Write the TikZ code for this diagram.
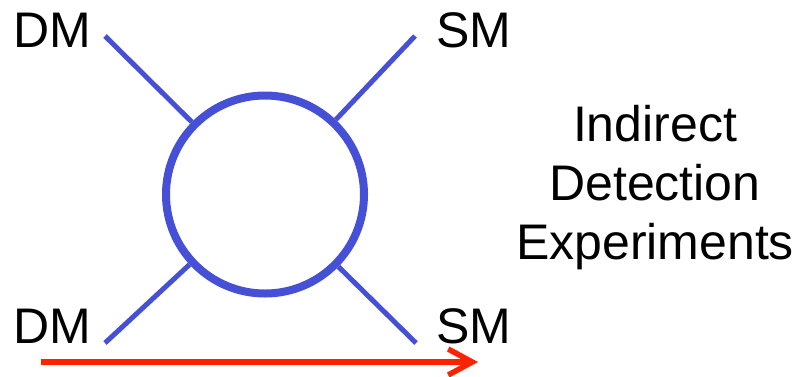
\documentclass[tikz,border=0pt]{standalone}
\usepackage{fontspec}
\setmainfont{Liberation Sans}
\usetikzlibrary{arrows.meta}
\definecolor{lineblue}{RGB}{70,80,214}
\definecolor{arrowred}{RGB}{255,34,0}
\begin{document}
\begin{tikzpicture}[x=1pt,y=-1pt,
  lbl/.style={inner sep=0pt,font=\fontsize{50}{59}\selectfont,anchor=base west},
  txt/.style={inner sep=0pt,font=\fontsize{50}{59}\selectfont,anchor=base},
  loop/.style={circle,draw=lineblue,line width=8pt,minimum size=198pt,inner sep=0pt},
  leg/.style={draw=lineblue,line width=5pt},
  timearrow/.style={draw=arrowred,line width=5.5pt,-{Straight Barb[length=24pt,width=26pt]}}]
\useasboundingbox (0,0) rectangle (800,376);
\node[loop] (c) at (265,194.5) {};
\coordinate (tl) at (105,36);
\coordinate (tr) at (415,36);
\coordinate (bl) at (105,343);
\coordinate (br) at (416,343);
\draw[leg] (tl) -- (c);
\draw[leg] (tr) -- (c);
\draw[leg] (bl) -- (c);
\draw[leg] (br) -- (c);
\node[lbl] (dm1) at (13,47) {DM};
\node[lbl] (sm1) at (436,47) {SM};
\node[lbl] (dm2) at (13,343) {DM};
\node[lbl] (sm2) at (436,343) {SM};
\node[txt] (i1) at (655,141) {Indirect};
\node[txt] (i2) at (655,200) {Detection};
\node[txt] (i3) at (655,259) {Experiments};
\coordinate (a1) at (41,362);
\coordinate (a2) at (478,362);
\draw[timearrow] (a1) -- (a2);
\end{tikzpicture}
\end{document}
